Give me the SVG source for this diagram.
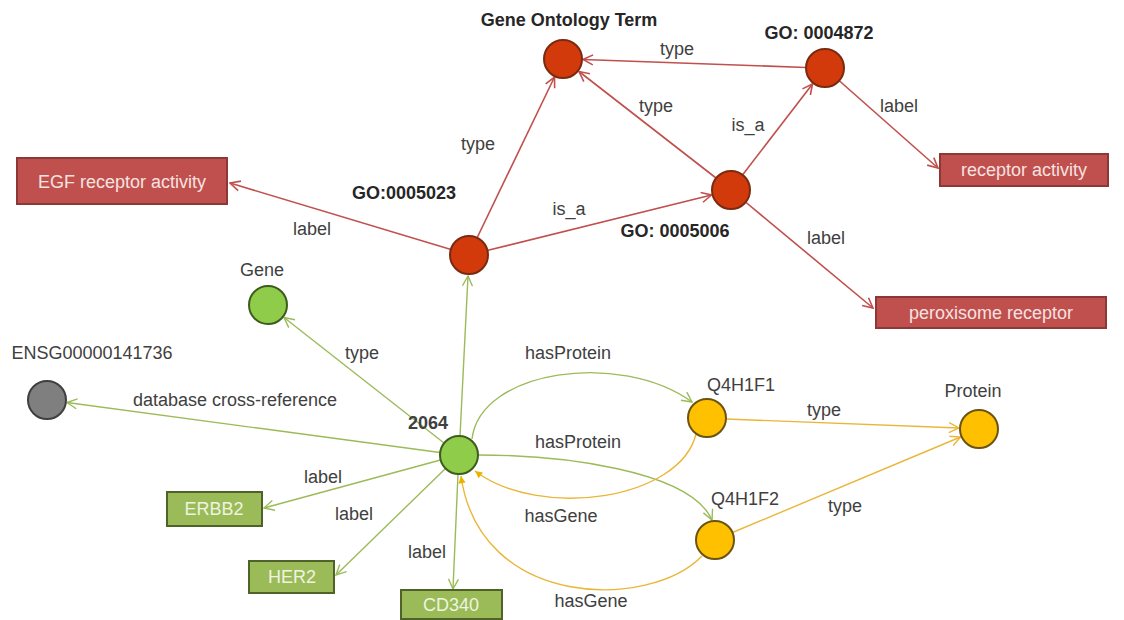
<svg xmlns="http://www.w3.org/2000/svg" width="1124" height="620" viewBox="0 0 1124 620">
<style>
.lbl{font-family:"Liberation Sans",Arial,sans-serif;font-size:18px;fill:#404040;text-anchor:middle}
.ttl{font-family:"Liberation Sans",Arial,sans-serif;font-size:18px;fill:#404040;text-anchor:middle}
.bld{font-family:"Liberation Sans",Arial,sans-serif;font-size:18px;font-weight:bold;fill:#262626;text-anchor:middle}
.rtx{font-family:"Liberation Sans",Arial,sans-serif;font-size:18px;fill:#f6e2e1;text-anchor:middle}
.gtx{font-family:"Liberation Sans",Arial,sans-serif;font-size:18px;fill:#eef4e0;text-anchor:middle}
.cr{fill:#d23a0c;stroke:#7a2a10;stroke-width:2}
.cg{fill:#8fcc4a;stroke:#3d5c1e;stroke-width:2}
.cy{fill:#ffc000;stroke:#6b5312;stroke-width:2}
.ck{fill:#7f7f7f;stroke:#3f3f3f;stroke-width:2}
.rr{fill:#c0504d;stroke:#8c3836;stroke-width:2}
.rg{fill:#9bbb59;stroke:#4f6228;stroke-width:2}
.er{stroke:#c0504d;stroke-width:1.6;fill:none;marker-end:url(#ar)}
.eg{stroke:#9bbb59;stroke-width:1.4;fill:none;marker-end:url(#ag)}
.ey{stroke:#eab63a;stroke-width:1.4;fill:none;marker-end:url(#ay)}
.eyf{stroke:#eab63a;stroke-width:1.4;fill:none;marker-end:url(#ayf)}
</style>
<defs>
<marker id="ar" viewBox="0 0 12 12" refX="11" refY="6" markerWidth="12" markerHeight="12" markerUnits="userSpaceOnUse" orient="auto"><path d="M1,1 L11,6 L1,11" fill="none" stroke="#c0504d" stroke-width="1.6"/></marker>
<marker id="ag" viewBox="0 0 12 12" refX="11" refY="6" markerWidth="12" markerHeight="12" markerUnits="userSpaceOnUse" orient="auto"><path d="M1,1 L11,6 L1,11" fill="none" stroke="#9bbb59" stroke-width="1.4"/></marker>
<marker id="ay" viewBox="0 0 12 12" refX="11" refY="6" markerWidth="12" markerHeight="12" markerUnits="userSpaceOnUse" orient="auto"><path d="M1,1 L11,6 L1,11" fill="none" stroke="#eab63a" stroke-width="1.4"/></marker>
<marker id="ayf" viewBox="0 0 10 10" refX="9" refY="5" markerWidth="9" markerHeight="9" markerUnits="userSpaceOnUse" orient="auto"><path d="M1,1 L9,5 L1,9 Z" fill="#e8b400"/></marker>
</defs>

<g id="connectors">
<line class="er" x1="477" y1="238" x2="554.5" y2="77"/>
<line class="er" x1="487" y1="250.5" x2="711.5" y2="195"/>
<line class="er" x1="451" y1="249.5" x2="230" y2="183"/>
<line class="er" x1="716" y1="178" x2="579" y2="71.5"/>
<line class="er" x1="742.5" y1="175" x2="812.5" y2="84"/>
<line class="er" x1="806" y1="67.5" x2="583" y2="59.5"/>
<line class="er" x1="839" y1="80.5" x2="938" y2="168"/>
<line class="er" x1="745.5" y1="202" x2="873" y2="308"/>

<line class="eg" x1="460" y1="436" x2="468" y2="276"/>
<line class="eg" x1="444" y1="443" x2="284" y2="317.5"/>
<line class="eg" x1="440" y1="452.5" x2="67" y2="402.5"/>
<line class="eg" x1="440.5" y1="460" x2="264" y2="508"/>
<line class="eg" x1="445.5" y1="468.5" x2="336" y2="575"/>
<line class="eg" x1="458" y1="474" x2="453" y2="589"/>
<path class="eg" d="M472 439 C480 370 620 350 692 402"/>
<path class="eg" d="M478 455 C560 455 690 470 712 520"/>

<line class="ey" x1="726" y1="419" x2="959" y2="428"/>
<line class="ey" x1="732.5" y1="532.5" x2="960.5" y2="437"/>
<path class="eyf" d="M696 434 C680 500 540 520 475 471"/>
<path class="eyf" d="M702 556 C650 610 480 610 461 476"/>

<text class="lbl" x="677" y="55">type</text>
<text class="lbl" x="656" y="112">type</text>
<text class="lbl" x="748" y="131">is_a</text>
<text class="lbl" x="899" y="112">label</text>
<text class="lbl" x="478" y="150">type</text>
<text class="lbl" x="569" y="215">is_a</text>
<text class="lbl" x="312" y="235">label</text>
<text class="lbl" x="826" y="244">label</text>
<text class="lbl" x="362" y="359">type</text>
<text class="lbl" x="235" y="406">database cross-reference</text>
<text class="lbl" x="568" y="359">hasProtein</text>
<text class="lbl" x="578" y="448">hasProtein</text>
<text class="lbl" x="824" y="416">type</text>
<text class="lbl" x="845" y="512">type</text>
<text class="lbl" x="323" y="483">label</text>
<text class="lbl" x="354" y="520">label</text>
<text class="lbl" x="427" y="558">label</text>
<text class="lbl" x="561" y="522">hasGene</text>
<text class="lbl" x="591" y="607">hasGene</text>
</g>

<g id="go-term"><circle class="cr" cx="563" cy="59" r="19"/><text class="bld" x="569" y="26">Gene Ontology Term</text></g>
<g id="go-0004872"><circle class="cr" cx="825" cy="68" r="19"/><text class="bld" x="819" y="39">GO: 0004872</text></g>
<g id="go-0005006"><circle class="cr" cx="731" cy="190" r="19"/><text class="bld" x="675" y="237">GO: 0005006</text></g>
<g id="go-0005023"><circle class="cr" cx="469" cy="255" r="19"/><text class="bld" x="404" y="199">GO:0005023</text></g>
<g id="egf"><rect class="rr" x="17" y="158" width="210" height="46"/><text class="rtx" x="122" y="188">EGF receptor activity</text></g>
<g id="receptor-activity"><rect class="rr" x="940" y="154" width="168" height="32"/><text class="rtx" x="1024" y="176">receptor activity</text></g>
<g id="peroxisome"><rect class="rr" x="876" y="297" width="230" height="31"/><text class="rtx" x="991" y="319">peroxisome receptor</text></g>
<g id="gene"><circle class="cg" cx="268" cy="305" r="19"/><text class="ttl" x="262" y="276">Gene</text></g>
<g id="ensg"><circle class="ck" cx="47" cy="400" r="19"/><text class="ttl" x="92" y="359">ENSG00000141736</text></g>
<g id="n2064"><circle class="cg" cx="459" cy="455" r="19"/><text class="bld" x="428" y="429" style="fill:#404040">2064</text></g>
<g id="erbb2"><rect class="rg" x="167" y="492" width="95" height="34"/><text class="gtx" x="214" y="515">ERBB2</text></g>
<g id="her2"><rect class="rg" x="249" y="561" width="85" height="32"/><text class="gtx" x="292" y="583">HER2</text></g>
<g id="cd340"><rect class="rg" x="401" y="590" width="101" height="29"/><text class="gtx" x="451" y="611">CD340</text></g>
<g id="q4h1f1"><circle class="cy" cx="707" cy="418" r="19"/><text class="ttl" x="741" y="391">Q4H1F1</text></g>
<g id="q4h1f2"><circle class="cy" cx="715" cy="540" r="19"/><text class="ttl" x="745" y="505">Q4H1F2</text></g>
<g id="protein"><circle class="cy" cx="979" cy="429" r="19"/><text class="ttl" x="973" y="397">Protein</text></g>
</svg>
